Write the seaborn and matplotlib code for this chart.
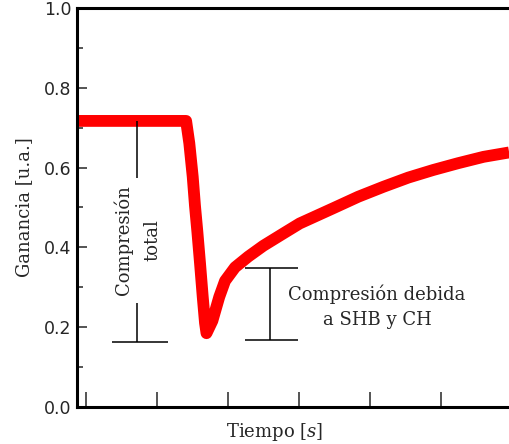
import matplotlib
matplotlib.use("Agg")
from matplotlib import pyplot as plt
import pandas as pd
import seaborn as sns

# ganancia vs tiempo
tiempo = [-0.13, 0.0, 0.5, 1.0, 1.41, 1.455, 1.503, 1.535, 1.568, 1.606,
          1.644, 1.676, 1.697, 1.78, 1.877, 1.958, 2.099, 2.286, 2.497,
          2.78, 3.01, 3.48, 3.835, 4.19, 4.54, 4.89, 5.24, 5.60, 5.96]
ganancia = [0.717, 0.717, 0.717, 0.717, 0.717, 0.661, 0.577, 0.504, 0.440,
            0.360, 0.276, 0.211, 0.185, 0.216, 0.276, 0.316, 0.350, 0.377,
            0.404, 0.435, 0.460, 0.498, 0.527, 0.552, 0.575, 0.594, 0.611,
            0.627, 0.638]
yticks = [0.0, 0.2, 0.4, 0.6, 0.8, 1.0]
yticks_minor = [0.1, 0.3, 0.5, 0.7, 0.9]
xticks = [0, 1, 2, 3, 4, 5]

sns.set_style("ticks")
plt.rcParams['font.family'] = ['DejaVu Serif']
plt.rcParams['mathtext.fontset'] = 'dejavuserif'

fig = plt.figure(figsize=(5.09, 4.44), dpi=100)
ax = fig.add_axes([77 / 509, 37 / 444, 432 / 509, 399 / 444])

df = pd.DataFrame({'tiempo': tiempo, 'ganancia': ganancia})
sns.lineplot(data=df, x='tiempo', y='ganancia', color='#ff0000', lw=8.5,
             sort=False, ax=ax, solid_joinstyle='round', solid_capstyle='butt')

# compresion total
ax.vlines(0.72, 0.574, 0.717, color='black', lw=1.1)
ax.vlines(0.72, 0.163, 0.261, color='black', lw=1.1)
ax.hlines(0.163, 0.37, 1.15, color='black', lw=1.1)
ax.text(0.725, 0.419, 'Compresión\ntotal', rotation=90, ha='center',
        va='center', fontsize=13, linespacing=1.75)

# compresion debida a SHB y CH
ax.vlines(2.59, 0.168, 0.348, color='black', lw=1.1)
ax.hlines([0.168, 0.348], 2.24, 2.99, color='black', lw=1.1)
ax.text(4.10, 0.251, 'Compresión debida\na SHB y CH', ha='center',
        va='center', fontsize=13, linespacing=1.5)

ax.set_xlim(-0.127, 5.958)
ax.set_ylim(0, 1.0)
ax.set_xticks(xticks)
ax.set_xticklabels([])
ax.set_yticks(yticks)
ax.set_yticks(yticks_minor, minor=True)
ax.set_yticklabels(['{:.1f}'.format(v) for v in yticks],
                   family='DejaVu Sans', fontsize=12.5)
ax.tick_params(axis='y', which='major', direction='in', length=7.5,
               width=1.1, pad=4)
ax.tick_params(axis='y', which='minor', direction='in', length=4.5,
               width=1.1)
ax.tick_params(axis='x', direction='in', length=11, width=1.1)

for side in ['left', 'bottom', 'top']:
    ax.spines[side].set_linewidth(2.2)
    ax.spines[side].set_color('black')
ax.spines['right'].set_visible(False)

ax.set_ylabel('Ganancia [u.a.]', fontsize=13, labelpad=8)
ax.set_xlabel('Tiempo [$\\it{s}$]', fontsize=13)
ax.xaxis.set_label_coords((275 - 77) / 432, -0.035)

fig.savefig('out.png', dpi=100)
